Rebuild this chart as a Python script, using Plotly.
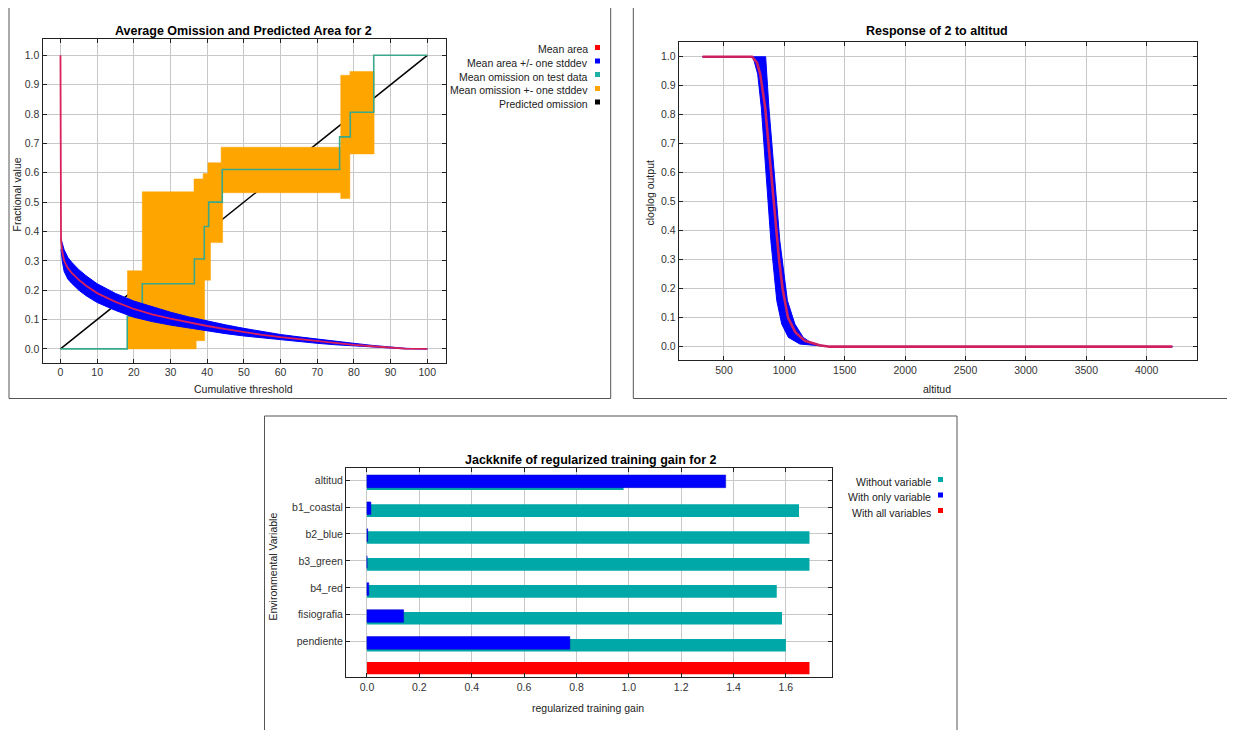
import plotly.graph_objects as go

# page body has an 8px margin, so the figure is placed at (8, 8)
OFF = 8
W, H = 1235 - OFF, 730 - OFF
FONT = "Liberation Sans, Arial, sans-serif"

# ---------------- data: omission / predicted area ----------------
thr = [0, 0.15, 0.5, 1, 2, 3, 5, 7, 10, 15, 20, 25, 30, 35, 40, 45, 50,
       55, 60, 65, 70, 75, 80, 85, 90, 94, 100]
mean_area = [1.0, 0.37, 0.33, 0.30, 0.275, 0.26, 0.235, 0.215, 0.19, 0.16,
             0.136, 0.118, 0.103, 0.09, 0.078, 0.067, 0.057, 0.048, 0.04,
             0.033, 0.026, 0.02, 0.014, 0.009, 0.005, 0.001, 0.0]
area_upper = [0.375, 0.375, 0.362, 0.338, 0.312, 0.296, 0.27, 0.249, 0.222,
              0.189, 0.163, 0.143, 0.125, 0.109, 0.095, 0.082, 0.07, 0.059,
              0.049, 0.041, 0.033, 0.026, 0.019, 0.012, 0.007, 0.002, 0.0]
area_lower = [0.34, 0.34, 0.298, 0.264, 0.238, 0.224, 0.2, 0.181, 0.158,
              0.131, 0.108, 0.093, 0.081, 0.07, 0.061, 0.052, 0.044, 0.037,
              0.031, 0.025, 0.019, 0.014, 0.009, 0.006, 0.003, 0.0, 0.0]

om_x = [0, 18.2, 22.3, 36.5, 39.2, 40.4, 44.1, 76.1, 79.0, 85.4, 100]
om_y = [0, 0.111, 0.222, 0.306, 0.417, 0.5, 0.611, 0.722, 0.806, 1.0, 1.0]

# step segments of mean omission +- one stddev: (start, end, value)
om_up_seg = [(18.2, 22.3, 0.266), (22.3, 36.4, 0.535), (36.4, 38.9, 0.579),
             (38.9, 40.2, 0.597), (40.2, 43.8, 0.634), (43.8, 76.4, 0.687),
             (76.4, 78.9, 0.932), (78.9, 85.5, 0.945)]
om_lo_seg = [(18.2, 37.0, 0.0), (37.0, 39.3, 0.028), (39.3, 40.9, 0.234),
             (40.9, 44.2, 0.362), (44.2, 76.4, 0.532), (76.4, 78.9, 0.512),
             (78.9, 85.5, 0.664)]

pred_x = [0, 100]
pred_y = [0, 1]

# ---------------- data: response to altitud ----------------
alt_mean_x = [322, 732, 773, 800, 841, 869, 910, 956, 985, 1030, 1090, 1170,
              1292, 1374, 4213]
alt_mean_y = [1.0, 1.0, 0.98, 0.94, 0.825, 0.7, 0.5, 0.3, 0.2, 0.1, 0.05,
              0.02, 0.005, 0.0, 0.0]
alt_up_x = [322, 845, 872, 920, 962, 1025, 1087, 1156, 1238, 1380, 4213]
alt_up_y = [1.0, 1.0, 0.825, 0.595, 0.366, 0.159, 0.078, 0.032, 0.009, 0.0, 0.0]
alt_lo_x = [322, 740, 779, 809, 850, 888, 937, 978, 1033, 1128, 1380, 4213]
alt_lo_y = [1.0, 1.0, 0.94, 0.825, 0.595, 0.366, 0.159, 0.078, 0.032, 0.009,
            0.0, 0.0]

# ---------------- data: jackknife ----------------
variables = ["altitud", "b1_coastal", "b2_blue", "b3_green", "b4_red",
             "fisiografia", "pendiente"]
without_var = [0.98, 1.65, 1.69, 1.69, 1.565, 1.585, 1.60]
only_var = [1.37, 0.015, 0.003, 0.0, 0.007, 0.14, 0.775]
all_vars = 1.69


# ---------------- helpers (reference pixel -> paper) ----------------
def fx(px):
    return (px - OFF) / W


def fy(py):
    return 1 - (py - OFF) / H


fig = go.Figure()

# ---- top-left chart ----
fig.add_trace(go.Scatter(x=pred_x, y=pred_y, mode="lines",
                         line=dict(color="black", width=1.5),
                         xaxis="x", yaxis="y", hoverinfo="skip"))
poly_x, poly_y = [], []
for a, b, v in om_up_seg:
    poly_x += [a, b]
    poly_y += [v, v]
for a, b, v in reversed(om_lo_seg):
    poly_x += [b, a]
    poly_y += [v, v]
fig.add_trace(go.Scatter(x=poly_x, y=poly_y, mode="lines", fill="toself",
                         fillcolor="#FFA500", line=dict(color="#FFA500", width=0.5),
                         xaxis="x", yaxis="y", hoverinfo="skip"))
fig.add_trace(go.Scatter(x=om_x, y=om_y, mode="lines", line_shape="hv",
                         line=dict(color="#3aa88a", width=1.6),
                         xaxis="x", yaxis="y", hoverinfo="skip"))
fig.add_trace(go.Scatter(x=thr[1:] + thr[1:][::-1],
                         y=area_upper[1:] + area_lower[1:][::-1],
                         mode="lines", fill="toself", fillcolor="#0000FF",
                         line=dict(color="#0000FF", width=1),
                         xaxis="x", yaxis="y", hoverinfo="skip"))
fig.add_trace(go.Scatter(x=thr, y=mean_area, mode="lines",
                         line=dict(color="#d8205a", width=1.8),
                         xaxis="x", yaxis="y", hoverinfo="skip"))

# ---- top-right chart ----
fig.add_trace(go.Scatter(x=alt_up_x + alt_lo_x[::-1],
                         y=alt_up_y + alt_lo_y[::-1],
                         mode="lines", fill="toself", fillcolor="#0000FF",
                         line=dict(color="#0000FF", width=1),
                         xaxis="x2", yaxis="y2", hoverinfo="skip"))
fig.add_trace(go.Scatter(x=alt_mean_x, y=alt_mean_y, mode="lines",
                         line=dict(color="#cc2060", width=2.6),
                         xaxis="x2", yaxis="y2", hoverinfo="skip"))

# ---- bottom chart ----
pos = list(range(len(variables)))
fig.add_trace(go.Bar(x=without_var, y=pos, orientation="h",
                     marker=dict(color="#00A8A8", line=dict(width=0)),
                     width=0.47, offset=-0.105,
                     xaxis="x3", yaxis="y3", hoverinfo="skip"))
fig.add_trace(go.Bar(x=only_var, y=pos, orientation="h",
                     marker=dict(color="#0000FF", line=dict(color="#0000cc", width=0.5)),
                     width=0.47, offset=-0.19,
                     xaxis="x3", yaxis="y3", hoverinfo="skip"))
fig.add_trace(go.Bar(x=[all_vars], y=[len(variables)], orientation="h",
                     marker=dict(color="#FF0000", line=dict(width=0)),
                     width=0.45, offset=-0.245,
                     xaxis="x3", yaxis="y3", hoverinfo="skip"))

tickfont = dict(family=FONT, size=10.5, color="#333")
axis_common = dict(showline=True, linecolor="#222", linewidth=1, mirror="ticks",
                   ticks="inside", ticklen=4, tickcolor="#222",
                   showgrid=True, gridcolor="#c8c8c8", gridwidth=1,
                   zeroline=False, tickfont=tickfont)

fig.update_layout(
    width=W, height=H, margin=dict(l=0, r=0, t=0, b=0),
    paper_bgcolor="white", plot_bgcolor="white", showlegend=False,
    barmode="overlay",
    xaxis=dict(domain=[fx(42.5), fx(446)], range=[-4.9, 105.1],
               tickvals=list(range(0, 101, 10)), anchor="y", **axis_common),
    yaxis=dict(domain=[fy(362.7), fy(39.3)], range=[-0.047, 1.0545],
               tickvals=[i / 10 for i in range(11)], tickformat=".1f",
               anchor="x", **axis_common),
    xaxis2=dict(domain=[fx(678.7), fx(1197.3)], range=[125, 4419],
                tickvals=list(range(500, 4001, 500)), anchor="y2", **axis_common),
    yaxis2=dict(domain=[fy(360), fy(41.7)], range=[-0.046, 1.052],
                tickvals=[i / 10 for i in range(11)], tickformat=".1f",
                anchor="x2", **axis_common),
    xaxis3=dict(domain=[fx(346), fx(832)], range=[-0.08, 1.776],
                tickvals=[0, 0.2, 0.4, 0.6, 0.8, 1.0, 1.2, 1.4, 1.6],
                tickformat=".1f", anchor="y3", **axis_common),
    yaxis3=dict(domain=[fy(677), fy(468)], range=[7.31, -0.45],
                tickvals=pos, ticktext=variables, anchor="x3", **axis_common),
)

shapes = []
# panel frames
for x0, y0, x1, y1 in [(9, 7.5, 610.7, 398.5), (633.3, 7.5, 1233, 398.5),
                       (264.5, 416, 957, 740)]:
    shapes.append(dict(type="rect", xref="paper", yref="paper",
                       x0=fx(x0), x1=fx(x1), y0=fy(y1), y1=fy(y0),
                       line=dict(color="#555", width=1), fillcolor="rgba(0,0,0,0)"))

annotations = []


def text(x, y, s, size=10.5, bold=False, angle=0, anchor="center", color="#222"):
    annotations.append(dict(x=fx(x), y=fy(y), xref="paper", yref="paper",
                            text=f"<b>{s}</b>" if bold else s, showarrow=False,
                            textangle=angle, xanchor=anchor, yanchor="middle",
                            font=dict(family=FONT, size=size, color=color)))


# titles
text(243, 31, "Average Omission and Predicted Area for 2", size=12.5, bold=True, color="black")
text(937, 31.5, "Response of 2 to altitud", size=12.5, bold=True, color="black")
text(590, 460, "Jackknife of regularized training gain for 2", size=12.5, bold=True, color="black")
# axis titles
text(243, 388.5, "Cumulative threshold")
text(16.5, 195, "Fractional value", angle=-90)
text(937, 389, "altitud")
text(649.5, 193, "cloglog output", angle=-90)
text(588, 708, "regularized training gain")
text(272.5, 567, "Environmental Variable", angle=-90)

# legends
legend_tl = [("Mean area", "#FF0000"), ("Mean area +/- one stddev", "#0000FF"),
             ("Mean omission on test data", "#20b0a8"),
             ("Mean omission +- one stddev", "#FFA500"),
             ("Predicted omission", "#000000")]
legend_tl_y = [49.5, 63, 76.5, 90.5, 104]
for (lab, col), yy in zip(legend_tl, legend_tl_y):
    text(589.5, yy, lab, size=10.5, anchor="right")
    shapes.append(dict(type="rect", xref="paper", yref="paper",
                       x0=fx(595), x1=fx(600), y0=fy(yy + 0.5), y1=fy(yy - 4.5),
                       line=dict(width=0), fillcolor=col))

legend_b = [("Without variable", "#00A8A8"), ("With only variable", "#0000FF"),
            ("With all variables", "#FF0000")]
legend_b_y = [481.5, 497, 512.5]
for (lab, col), yy in zip(legend_b, legend_b_y):
    text(933, yy, lab, size=10.5, anchor="right")
    shapes.append(dict(type="rect", xref="paper", yref="paper",
                       x0=fx(938), x1=fx(943), y0=fy(yy + 0.5), y1=fy(yy - 4.5),
                       line=dict(width=0), fillcolor=col))

fig.update_layout(shapes=shapes, annotations=annotations)

fig.write_html("out.html")
